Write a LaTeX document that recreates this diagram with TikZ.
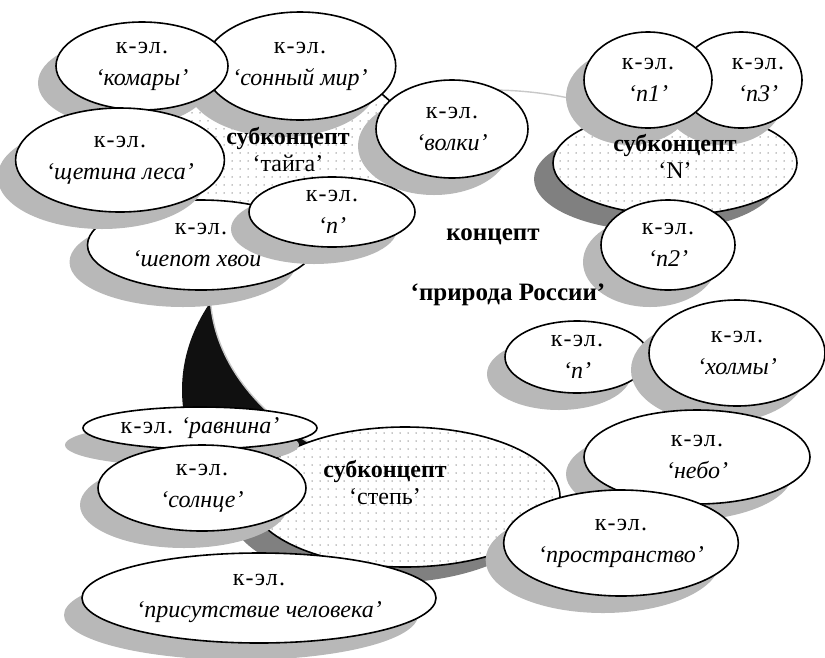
\documentclass[tikz,border=0pt]{standalone}
\usepackage{fontspec}
\setmainfont{Liberation Serif}
\usetikzlibrary{shapes.geometric,shadows,patterns.meta}

\definecolor{lightshadow}{RGB}{184,184,184}
\definecolor{darkshadow}{RGB}{128,128,128}
\definecolor{deepshadow}{RGB}{16,16,16}
\definecolor{rimgray}{RGB}{200,200,200}
\definecolor{dotgray}{RGB}{140,140,140}

% sparse grey dots used inside the sub-concept ovals
\tikzdeclarepattern{
  name=sparsedots,
  type=uncolored,
  bounding box={(-1pt,-1pt) and (1pt,1pt)},
  tile size={(8pt,8pt)},
  code={\fill (0pt,0pt) circle [radius=0.75pt];}
}

\newcommand\kefont{\fontsize{24}{32}\selectfont}
\newcommand\subfont{\fontsize{24}{27}\selectfont}
\newcommand\conceptfont{\fontsize{25}{30}\selectfont\bfseries}
\newcommand\kelabel{{\addfontfeature{LetterSpace=5}к-эл.}}

\tikzset{
  oval/.style 2 args={ellipse, inner sep=0pt, minimum width=#1pt, minimum height=#2pt},
  element/.style={draw=black, line width=1.6pt, fill=white, align=center, font=\kefont,
    drop shadow={shadow xshift=-18pt, shadow yshift=-17pt, fill=lightshadow, opacity=1}},
  subconcept/.style={draw=black, line width=1.6pt,
    drop shadow={shadow xshift=-19pt, shadow yshift=-16pt, fill=darkshadow, opacity=1},
    preaction={fill=white}, pattern={sparsedots}, pattern color=dotgray},
  bigoval/.style={draw=none, fill=white},
  rim/.style={draw=rimgray, line width=1.4pt},
  sublabel/.style={align=center, font=\subfont},
}

\begin{document}
\begin{tikzpicture}[x=1pt, y=-1pt]
\useasboundingbox (0,0) rectangle (825,657);

% shadow of the main concept oval, seen on its lower left side
\begin{scope}
  \clip (150,270) rectangle (340,445);
  \fill[deepshadow] (462,390) ellipse [x radius=280pt, y radius=200pt];
\end{scope}

% main concept oval, its pale rim showing only at the top and lower left
\node[bigoval, oval={560}{400}] (concept) at (490,290) {};
\begin{scope}
  \clip (150,270) rectangle (340,445) (400,85) rectangle (620,130);
  \draw[rim] (490,290) ellipse [x radius=280pt, y radius=200pt];
\end{scope}

% sub-concept ovals
\node[subconcept, oval={260}{164}] (taiga) at (280,145) {};
\node[subconcept, oval={244}{104}] (subN) at (675,163) {};
\node[subconcept, oval={310}{140}] (steppe) at (405,497) {};

% elements of 'тайга'
\node[element, oval={190}{108}] (sonmir) at (300,66) {\kelabel\\\textit{‘сонный мир’}};
\node[element, oval={172}{88}] (komary) at (142,66) {\kelabel\\\textit{‘комары’}};
\node[element, oval={227}{90}] (shepot) at (201,245) {\kelabel\\\textit{‘шепот хвои’}};
\node[element, oval={190}{104}] (shchetina) at (120,160) {\kelabel\\\textit{‘щетина леса’}};
\node[element, oval={152}{98}] (volki) at (452,129) {\kelabel\\\textit{‘волки’}};
\node[element, oval={166}{70}] (taigan) at (332,212) {\kelabel\\\textit{‘n’}};

% elements of 'N'
\node[element, oval={102}{96}] (nthree) at (741,80) {\hspace*{34pt}\kelabel\\\hspace*{34pt}\textit{‘n3’}};
\node[element, oval={128}{96}] (none) at (648,80) {\kelabel\\\textit{‘n1’}};
\node[element, oval={134}{90}] (ntwo) at (668,245) {\kelabel\\\textit{‘n2’}};

% free elements
\node[element, oval={144}{72}] (freen) at (577,357) {\kelabel\\\textit{‘n’}};
\node[element, oval={176}{106}] (kholmy) at (737,353) {\kelabel\\\textit{‘холмы’}};

% elements of 'степь'
\node[element, oval={234}{42}] (ravnina) at (200,428) {\kelabel{} \textit{‘равнина’}};
\node[element, oval={208}{86}] (solntse) at (202,488) {\kelabel\\\textit{‘солнце’}};
\node[element, oval={354}{90}] (chelovek) at (259,598) {\kelabel\\\textit{‘присутствие человека’}};
\node[element, oval={226}{94}] (nebo) at (697,457) {\kelabel\\\textit{‘небо’}};
\node[element, oval={232}{106}] (prostranstvo) at (621,543) {\kelabel\\\textit{‘пространство’}};

% labels
\node[sublabel] (taigalabel) at (288,150) {\textbf{субконцепт}\\‘тайга’};
\node[sublabel] (Nlabel) at (675,156) {\textbf{субконцепт}\\‘N’};
\node[sublabel] (steppelabel) at (385,483) {\textbf{субконцепт}\\‘степь’};
\node[font=\conceptfont] (conceptword) at (493,237) {концепт};
\node[font=\conceptfont] (conceptname) at (508,295) {‘природа России’};
\end{tikzpicture}
\end{document}
